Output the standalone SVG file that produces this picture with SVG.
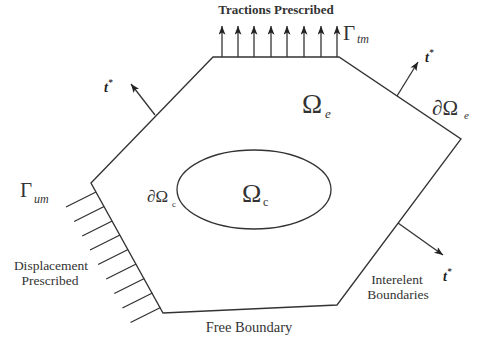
<svg xmlns="http://www.w3.org/2000/svg" width="481" height="340" viewBox="0 0 481 340">
<style>
.ln{stroke:#333;stroke-width:1.3;fill:none}
.ar{stroke:#333;stroke-width:1.3;fill:none;marker-end:url(#ah)}
.tx{font-family:"Liberation Serif",serif;fill:#333}
.lb{font-size:14.5px}
.lb2{font-size:13.5px}
.ts{font-family:"Liberation Serif",serif;fill:#222;font-weight:bold;font-style:italic;font-size:14px}
</style>
<defs>
<marker id="ah" viewBox="0 0 10 8" refX="10" refY="4" markerWidth="9" markerHeight="7" orient="auto" markerUnits="userSpaceOnUse">
<path d="M0,0 L10,4 L0,8 L2.5,4 z" fill="#222"/>
</marker>
</defs>
<rect width="481" height="340" fill="#fff"/>
<g id="element">
<polygon class="ln" points="91,183 213,57 339,57 461,139 337,305 163,313"/>
<text class="tx" x="302" y="113" font-size="27">Ω</text>
<text class="tx" x="325" y="118" font-size="13" font-style="italic">e</text>
<text class="tx" x="432" y="115" font-size="21">∂Ω</text>
<text class="tx" x="464" y="119" font-size="11" font-style="italic">e</text>
</g>
<g id="inclusion">
<ellipse class="ln" cx="254" cy="189.5" rx="77" ry="39.5"/>
<text class="tx" x="242" y="202" font-size="26">Ω</text>
<text class="tx" x="263" y="206" font-size="12">c</text>
<text class="tx" x="147" y="202" font-size="17">∂Ω</text>
<text class="tx" x="172" y="207" font-size="9">c</text>
</g>
<g id="tractions">
<text class="tx" x="276" y="14" text-anchor="middle" font-weight="bold" font-size="13">Tractions Prescribed</text>
<text class="tx" x="343" y="40" font-size="21">Γ</text>
<text class="tx" x="357" y="43" font-size="12" font-style="italic">tm</text>
</g>
<g id="displacement">
<text class="tx" x="20" y="197" font-size="21">Γ</text>
<text class="tx" x="34" y="203" font-size="12" font-style="italic">um</text>
<text class="tx lb2" x="51" y="270" text-anchor="middle">Displacement</text>
<text class="tx lb2" x="50" y="285" text-anchor="middle">Prescribed</text>
</g>
<g id="labels">
<text class="tx lb" x="249" y="332" text-anchor="middle">Free Boundary</text>
<text class="tx lb2" x="397" y="284" text-anchor="middle">Interelent</text>
<text class="tx lb2" x="398" y="299" text-anchor="middle">Boundaries</text>
<text class="ts" x="104" y="92">t<tspan font-size="9" dy="-7">*</tspan></text>
<text class="ts" x="425" y="62">t<tspan font-size="9" dy="-7">*</tspan></text>
<text class="ts" x="443" y="281">t<tspan font-size="9" dy="-7">*</tspan></text>
</g>
<g id="connectors">
<line class="ar" x1="222" y1="57" x2="222" y2="26"/>
<line class="ar" x1="238" y1="57" x2="238" y2="26"/>
<line class="ar" x1="254" y1="57" x2="254" y2="26"/>
<line class="ar" x1="271" y1="57" x2="271" y2="26"/>
<line class="ar" x1="287" y1="57" x2="287" y2="26"/>
<line class="ar" x1="304" y1="57" x2="304" y2="26"/>
<line class="ar" x1="321" y1="57" x2="321" y2="26"/>
<line class="ar" x1="337" y1="57" x2="337" y2="26"/>
<line class="ar" x1="155" y1="115" x2="131" y2="84"/>
<line class="ar" x1="397" y1="96" x2="418" y2="62"/>
<line class="ar" x1="398" y1="223" x2="443" y2="255"/>
<path class="ln" d="M96,192 l-30,15 M104.1,206.5 l-30,15 M112.2,221 l-30,15 M120,235 l-30,15 M128.1,249.5 l-30,15 M136.2,264 l-30,15 M144.3,278.5 l-30,15 M152.4,293 l-30,15 M160.5,307.5 l-30,15"/>
</g>
</svg>
